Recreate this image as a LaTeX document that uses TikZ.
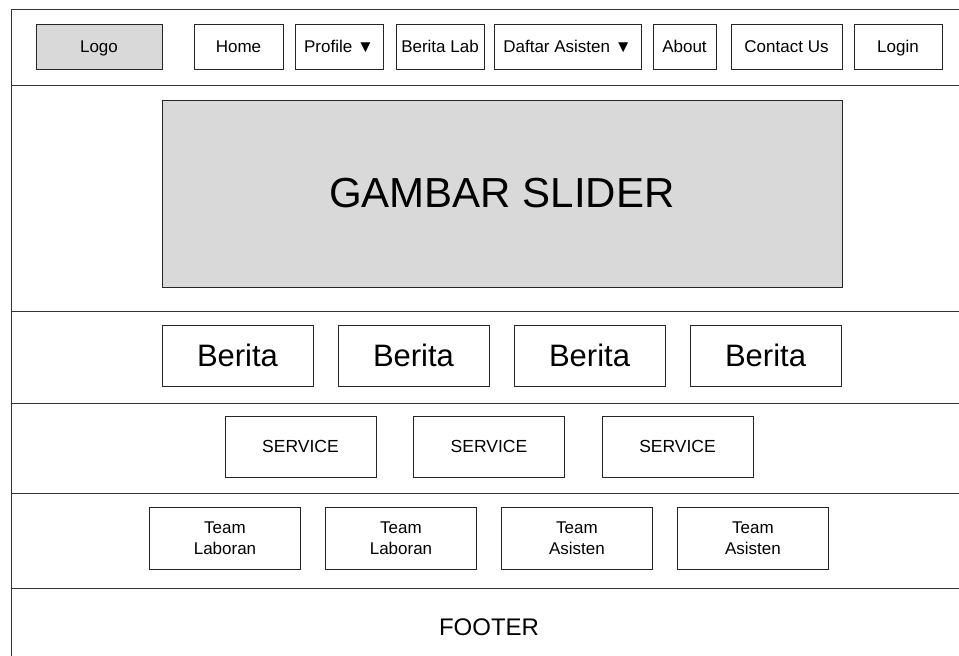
\documentclass[tikz,border=0pt]{standalone}
\usepackage{fontspec}
\setmainfont{Liberation Sans}
\begin{document}
\begin{tikzpicture}[
					x=1pt, y=-1pt,
					every node/.style={draw=black!85, line width=1pt, fill=white, inner sep=0pt, align=center},
					navbox/.style={minimum height=45pt, text height=12.2pt, text depth=0pt, font=\fontsize{17}{20}\selectfont},
					bigbox/.style={minimum width=151pt, minimum height=61pt},
					grey/.style={fill=black!15},
					section/.style={draw=black!80, line width=1pt}
				]
				\useasboundingbox (0,0) rectangle (959,656);
				% frame and section lines
				\draw[section] (11,656) -- (11,9) -- (959,9);
				\foreach \y in {85,311,403,493,588}
					\draw[section] (11,\y) -- (959,\y);
				% navigation
				\node[navbox, grey, minimum width=126pt] (logo) at (99,46.5) {Logo};
				\node[navbox, minimum width=89pt] (home) at (238.5,46.5) {Home};
				\node[navbox, minimum width=88pt] (profile) at (339,46.5) {Profile ▼};
				\node[navbox, minimum width=88pt] (beritalab) at (440,46.5) {Berita Lab};
				\node[navbox, minimum width=147pt] (asisten) at (567.5,46.5) {Daftar Asisten ▼};
				\node[navbox, minimum width=63pt] (about) at (684.5,46.5) {About};
				\node[navbox, minimum width=111pt] (contact) at (786.5,46.5) {Contact Us};
				\node[navbox, minimum width=88pt] (login) at (898,46.5) {Login};
				% slider
				\node[grey, minimum width=680pt, minimum height=187pt, font=\fontsize{42}{48}\selectfont] (slider) at (502,193.5) {GAMBAR SLIDER};
				% berita
				\begin{scope}[node distance=176pt, every node/.append style={bigbox, font=\fontsize{31}{36}\selectfont}]
					\node (berita1) at (237.5,355.5) {Berita};
					\node[right of=berita1] (berita2) {Berita};
					\node[right of=berita2] (berita3) {Berita};
					\node[right of=berita3] (berita4) {Berita};
				\end{scope}
				% service
				\begin{scope}[node distance=188.5pt, every node/.append style={bigbox, font=\fontsize{17.5}{20}\selectfont}]
					\node (service1) at (300.5,446.5) {SERVICE};
					\node[right of=service1] (service2) {SERVICE};
					\node[right of=service2] (service3) {SERVICE};
				\end{scope}
				% team
				\begin{scope}[node distance=176pt, every node/.append style={bigbox, minimum height=62pt, font=\fontsize{17}{20.5}\selectfont}]
					\node (team1) at (225,538) {Team\\Laboran};
					\node[right of=team1] (team2) {Team\\Laboran};
					\node[right of=team2] (team3) {Team\\Asisten};
					\node[right of=team3] (team4) {Team\\Asisten};
				\end{scope}
				% footer
				\node[draw=none, fill=none, font=\fontsize{24}{28}\selectfont] (footer) at (489,627) {FOOTER};
			\end{tikzpicture}
\end{document}
